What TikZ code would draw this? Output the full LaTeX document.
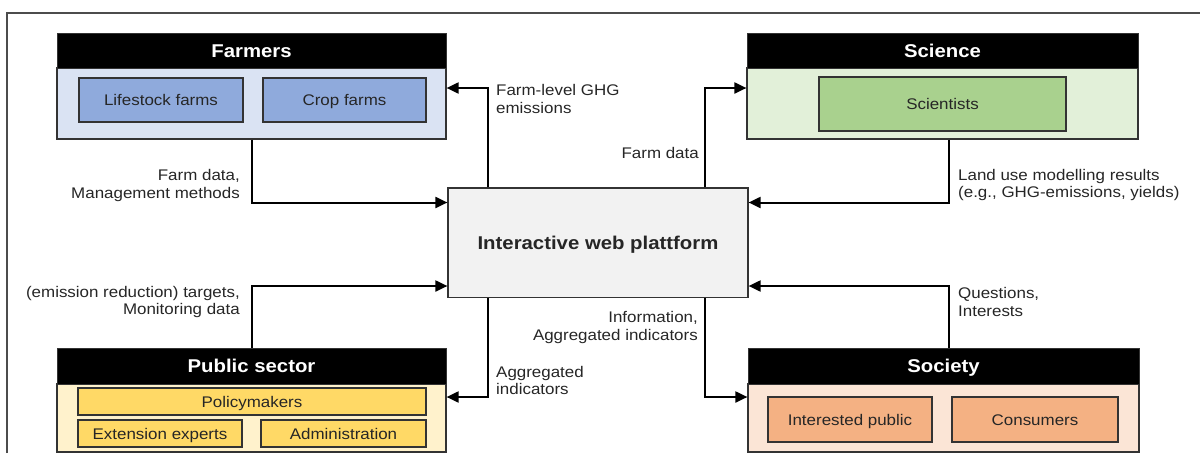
\documentclass[tikz,border=0pt]{standalone}
\usepackage{fontspec}
\setmainfont{Liberation Sans}[FakeStretch=1.1]
\usetikzlibrary{arrows.meta,shadows}
\definecolor{fbody}{HTML}{DAE3F3}
\definecolor{finner}{HTML}{8FAADC}
\definecolor{sbody}{HTML}{E2F0D9}
\definecolor{sinner}{HTML}{A9D18E}
\definecolor{pbody}{HTML}{FFF2CC}
\definecolor{pinner}{HTML}{FFD966}
\definecolor{obody}{HTML}{FBE5D6}
\definecolor{oinner}{HTML}{F4B183}
\definecolor{plat}{HTML}{F2F2F2}
\definecolor{edge}{HTML}{333333}
\definecolor{txt}{HTML}{262626}
\tikzset{
  hdr/.style={fill=black, draw=edge, line width=1pt, text=white, font=\fontsize{18.5}{20}\selectfont\bfseries, inner sep=0pt, text height=13.3pt, text depth=0pt, minimum width=389pt, minimum height=35pt},
  body/.style={draw=edge, line width=1.2pt, inner sep=0pt, minimum width=389pt},
  inner/.style={draw=edge, line width=1.2pt, inner sep=0pt, text=txt, font=\fontsize{15.4}{17.5}\selectfont, text height=11pt, text depth=0pt, drop shadow={shadow xshift=1.2pt, shadow yshift=-1.2pt, fill=gray, opacity=0.5}},
  lbl/.style={inner sep=0pt, text=txt, font=\fontsize{15.4}{17.5}\selectfont},
  arr/.style={line width=2pt, -{Triangle[length=12pt,width=11pt]}},
}
\begin{document}
\begin{tikzpicture}[x=1pt,y=-1pt]
\useasboundingbox (0,0) rectangle (1200,453);
% outer frame (cropped)
\draw[gray!60!black, line width=1.6pt] (7,453) -- (7,13) -- (1200,13);

% Farmers
\node[body, fill=fbody, minimum height=71pt] (farmersB) at (251.5,103.5) {};
\node[hdr] (farmersH) at (251.5,50.5) {Farmers};
\node[inner, fill=finner, minimum width=164pt, minimum height=44pt] (lifestock) at (161,100) {Lifestock farms};
\node[inner, fill=finner, minimum width=163pt, minimum height=44pt] (crop) at (344.5,100) {Crop farms};

% Science
\node[body, fill=sbody, minimum width=391pt, minimum height=71pt] (scienceB) at (942.5,103.5) {};
\node[hdr, minimum width=391pt] (scienceH) at (942.5,50.5) {Science};
\node[inner, fill=sinner, minimum width=247pt, minimum height=54pt] (scientists) at (942.5,104) {Scientists};

% Platform
\node[draw=edge, line width=1.2pt, fill=plat, minimum width=300pt, minimum height=109.5pt, inner sep=0pt, text=txt, font=\fontsize{18.5}{20}\selectfont\bfseries, text height=13.3pt, text depth=0pt] (platform) at (598,242.75) {Interactive web plattform};

% Public sector
\node[body, fill=pbody, minimum height=68pt] (publicB) at (251.5,418) {};
\node[hdr, minimum height=36pt] (publicH) at (251.5,366) {Public sector};
\node[inner, fill=pinner, minimum width=348pt, minimum height=27pt] (policy) at (252,401.5) {Policymakers};
\node[inner, fill=pinner, minimum width=164pt, minimum height=27pt] (extension) at (160,433.5) {Extension experts};
\node[inner, fill=pinner, minimum width=165pt, minimum height=27pt] (admin) at (343.5,433.5) {Administration};

% Society
\node[body, fill=obody, minimum width=391pt, minimum height=68pt] (societyB) at (943.5,418) {};
\node[hdr, minimum width=391pt, minimum height=36pt] (societyH) at (943.5,366) {Society};
\node[inner, fill=oinner, minimum width=164pt, minimum height=45pt] (public) at (850,419.5) {Interested public};
\node[inner, fill=oinner, minimum width=166pt, minimum height=45pt] (consumers) at (1035,419.5) {Consumers};

% Connectors
\draw[arr] (farmersB.south) |- ([yshift=40.25pt]platform.west);
\draw[arr] ([xshift=-110pt]platform.north) |- ([yshift=15.5pt]farmersB.east);
\draw[arr] ([xshift=107pt]platform.north) |- ([yshift=15.5pt]scienceB.west);
\draw[arr] ([xshift=6pt]scienceB.south) |- ([yshift=40.25pt]platform.east);
\draw[arr] (publicH.north) |- ([yshift=-43.25pt]platform.west);
\draw[arr] ([xshift=-110pt]platform.south) |- ([yshift=21pt]publicB.east);
\draw[arr] ([xshift=107pt]platform.south) |- ([yshift=21pt]societyB.west);
\draw[arr] ([xshift=5pt]societyH.north) |- ([yshift=-43.25pt]platform.east);

% Labels
\node[lbl, anchor=east, align=right] (l1) at (240,185.5) {Farm data,\\Management methods};
\node[lbl, anchor=west, align=left] (l2) at (496,99) {Farm-level GHG\\emissions};
\node[lbl, anchor=east, align=right] (l3) at (699,153) {Farm data};
\node[lbl, anchor=west, align=left] (l4) at (958,185) {Land use modelling results\\(e.g., GHG-emissions, yields)};
\node[lbl, anchor=east, align=right] (l5) at (240,302) {(emission reduction) targets,\\Monitoring data};
\node[lbl, anchor=west, align=left] (l6) at (496,380.5) {Aggregated\\indicators};
\node[lbl, anchor=east, align=right] (l7) at (698,327.5) {Information,\\Aggregated indicators};
\node[lbl, anchor=west, align=left] (l8) at (958,302) {Questions,\\Interests};
\end{tikzpicture}
\end{document}
